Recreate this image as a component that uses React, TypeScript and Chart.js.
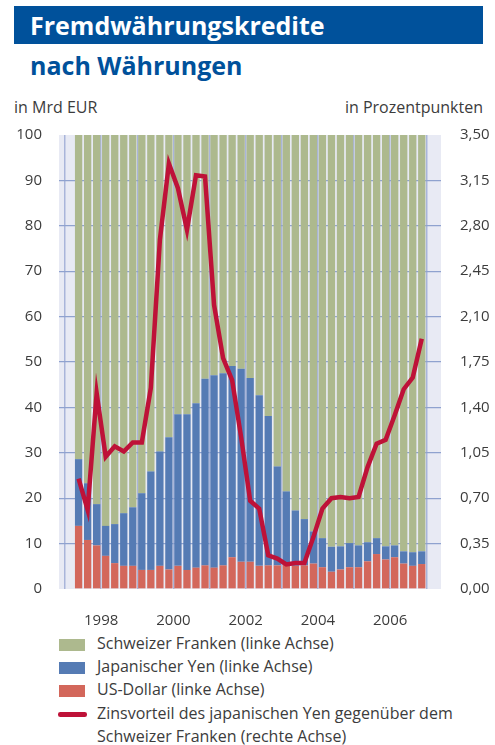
import React, { useEffect, useRef } from 'react';
import { Chart, registerables } from 'chart.js';

Chart.register(...registerables);

// ---- data ----
const quarters = [
  '1997 Q4',
  '1998 Q1', '1998 Q2', '1998 Q3', '1998 Q4',
  '1999 Q1', '1999 Q2', '1999 Q3', '1999 Q4',
  '2000 Q1', '2000 Q2', '2000 Q3', '2000 Q4',
  '2001 Q1', '2001 Q2', '2001 Q3', '2001 Q4',
  '2002 Q1', '2002 Q2', '2002 Q3', '2002 Q4',
  '2003 Q1', '2003 Q2', '2003 Q3', '2003 Q4',
  '2004 Q1', '2004 Q2', '2004 Q3', '2004 Q4',
  '2005 Q1', '2005 Q2', '2005 Q3', '2005 Q4',
  '2006 Q1', '2006 Q2', '2006 Q3', '2006 Q4',
  '2007 Q1', '2007 Q2',
];

const usDollar = [
  13.9, 10.8, 9.6, 7.3, 5.7, 5.1, 5.1, 4.2, 4.2, 5.1, 4.3, 5.1, 4.2, 4.7, 5.2, 4.7, 5.2, 7.0, 6.0, 6.0,
  5.1, 5.2, 5.2, 5.3, 5.1, 5.2, 5.6, 4.8, 3.8, 4.3, 4.8, 4.8, 6.1, 7.7, 6.5, 7.0, 5.6, 5.1, 5.5,
];

const japanYen = [
  14.7, 12.5, 9.1, 6.6, 8.6, 11.6, 12.9, 16.9, 21.7, 25.2, 29.1, 33.4, 34.3, 36.2, 41.1, 42.4, 42.3, 42.1, 42.5, 40.5,
  37.6, 32.9, 21.8, 16.2, 12.2, 10.2, 7.1, 6.4, 5.5, 5.1, 5.3, 4.8, 4.2, 3.5, 2.9, 2.6, 2.7, 3.0, 2.8,
];

const swissFranc = [
  71.4, 76.7, 81.3, 86.1, 85.7, 83.3, 82.0, 78.9, 74.1, 69.7, 66.6, 61.5, 61.5, 59.1, 53.7, 52.9, 52.5, 50.9, 51.5, 53.5,
  57.3, 61.9, 73.0, 78.5, 82.7, 84.6, 87.3, 88.8, 90.7, 90.6, 89.9, 90.4, 89.7, 88.8, 90.6, 90.4, 91.7, 91.9, 91.7,
];

const rateAdvantage = [
  0.85, 0.61, 1.51, 1.02, 1.10, 1.06, 1.13, 1.13, 1.55, 2.69, 3.28, 3.09, 2.77, 3.19, 3.18, 2.19, 1.78, 1.61, 1.17, 0.68,
  0.62, 0.26, 0.235, 0.19, 0.20, 0.20, 0.40, 0.62, 0.70, 0.71, 0.70, 0.71, 0.94, 1.12, 1.15, 1.34, 1.54, 1.63, 1.93,
];

const leftTicks = [0, 10, 20, 30, 40, 50, 60, 70, 80, 90, 100];
const rightTicks = [0, 0.35, 0.7, 1.05, 1.4, 1.75, 2.1, 2.45, 2.8, 3.15, 3.5];
const yearLabels = ['1998', '2000', '2002', '2004', '2006'];

const legendItems = [
  { label: 'Schweizer Franken (linke Achse)', color: '#adb98e', kind: 'box' },
  { label: 'Japanischer Yen (linke Achse)', color: '#557bb4', kind: 'box' },
  { label: 'US-Dollar (linke Achse)', color: '#d3675b', kind: 'box' },
  { label: 'Zinsvorteil des japanischen Yen gegenüber dem', label2: 'Schweizer Franken (rechte Achse)', color: '#be1238', kind: 'line' },
];

const COLORS = {
  chf: '#adb98e',
  yen: '#557bb4',
  usd: '#d3675b',
  line: '#be1238',
  bg: '#e8eaf4',
  grid: '#8fa2cf',
  yearGrid: '#a9b5da',
  text: '#3c3c3c',
  blue: '#00519b',
};

const FONT = "'Open Sans', 'DejaVu Sans', sans-serif";

const yearMid = (y: string) => quarters.indexOf(`${y} Q1`) + 1.5;
const yearBoundaries = quarters
  .map((q, i) => (q.endsWith('Q1') ? i - 0.5 : null))
  .filter((v) => v !== null) as number[];

const toPoints = (arr: number[]) => arr.map((v, i) => ({ x: i, y: v }));

const bgPlugin = {
  id: 'plotBg',
  beforeDraw(chart: any) {
    const { ctx, chartArea } = chart;
    if (!chartArea) return;
    ctx.save();
    ctx.fillStyle = COLORS.bg;
    ctx.fillRect(chartArea.left, chartArea.top, chartArea.right - chartArea.left, chartArea.bottom - chartArea.top);
    ctx.restore();
  },
};

const X_MIN = -2.17;
const X_MAX = 40.13;

function ChartCanvas() {
  const ref = useRef<HTMLCanvasElement | null>(null);
  useEffect(() => {
    if (!ref.current) return;
    Chart.defaults.font.family = FONT;
    const chart = new Chart(ref.current, {
      type: 'bar',
      data: {
        datasets: [
          {
            type: 'line',
            label: 'Zinsvorteil',
            data: toPoints(rateAdvantage),
            yAxisID: 'y2',
            xAxisID: 'x',
            borderColor: COLORS.line,
            borderWidth: 4.5,
            pointRadius: 0,
            tension: 0,
            order: 0,
          } as any,
          {
            label: 'US-Dollar',
            data: toPoints(usDollar),
            backgroundColor: COLORS.usd,
            yAxisID: 'y',
            xAxisID: 'x',
            barPercentage: 0.81,
            categoryPercentage: 1,
            order: 1,
          },
          {
            label: 'Japanischer Yen',
            data: toPoints(japanYen),
            backgroundColor: COLORS.yen,
            yAxisID: 'y',
            xAxisID: 'x',
            barPercentage: 0.81,
            categoryPercentage: 1,
            order: 1,
          },
          {
            label: 'Schweizer Franken',
            data: toPoints(swissFranc),
            backgroundColor: COLORS.chf,
            yAxisID: 'y',
            xAxisID: 'x',
            barPercentage: 0.81,
            categoryPercentage: 1,
            order: 1,
          },
        ],
      },
      options: {
        responsive: false,
        animation: false,
        devicePixelRatio: 1,
        layout: { padding: { top: 17, left: 0, right: 0, bottom: 0 } },
        plugins: { legend: { display: false }, tooltip: { enabled: false } },
        scales: {
          x: {
            type: 'linear',
            position: 'bottom',
            min: X_MIN,
            max: X_MAX,
            offset: false,
            stacked: true,
            grid: { display: false },
            border: { display: false },
            ticks: {
              autoSkip: false,
              maxRotation: 0,
              padding: 15,
              color: COLORS.text,
              font: { size: 15, family: FONT },
              callback: (_v: any, i: number) => yearLabels[i],
            },
            afterBuildTicks: (axis: any) => {
              axis.ticks = yearLabels.map((y) => ({ value: yearMid(y) }));
            },
            afterFit: (axis: any) => {
              axis.height = 39;
              axis.paddingLeft = 0;
              axis.paddingRight = 0;
            },
          },
          xg: {
            type: 'linear',
            position: 'bottom',
            min: X_MIN,
            max: X_MAX,
            offset: false,
            grid: { color: COLORS.yearGrid, lineWidth: 1.5, drawTicks: false },
            border: { display: false },
            ticks: { display: false },
            afterBuildTicks: (axis: any) => {
              axis.ticks = yearBoundaries.map((v) => ({ value: v }));
            },
            afterFit: (axis: any) => {
              axis.height = 0;
              axis.paddingLeft = 0;
              axis.paddingRight = 0;
            },
          },
          y: {
            type: 'linear',
            position: 'left',
            min: 0,
            max: 100,
            stacked: true,
            grid: {
              drawTicks: false,
              lineWidth: 1.3,
              color: (ctx: any) =>
                ctx.tick && (ctx.tick.value === 0 || ctx.tick.value === 100) ? 'rgba(0,0,0,0)' : COLORS.grid,
            },
            border: { display: false },
            ticks: {
              padding: 17,
              color: COLORS.text,
              font: { size: 15, family: FONT },
            },
            afterBuildTicks: (axis: any) => {
              axis.ticks = leftTicks.map((v) => ({ value: v }));
            },
            afterFit: (axis: any) => {
              axis.width = 59;
              axis.paddingTop = 0;
              axis.paddingBottom = 0;
            },
          },
          y2: {
            type: 'linear',
            position: 'right',
            min: 0,
            max: 3.5,
            grid: { display: false },
            border: { display: false },
            ticks: {
              padding: 11,
              color: COLORS.text,
              font: { size: 15, family: FONT },
              callback: (v: any) => Number(v).toFixed(2).replace('.', ','),
            },
            afterBuildTicks: (axis: any) => {
              axis.ticks = rightTicks.map((v) => ({ value: v }));
            },
            afterFit: (axis: any) => {
              axis.width = 54;
              axis.paddingTop = 0;
              axis.paddingBottom = 0;
            },
          },
        },
      } as any,
      plugins: [bgPlugin],
    });
    return () => chart.destroy();
  }, []);
  return (
    <canvas
      ref={ref}
      width={495}
      height={510}
      style={{ position: 'absolute', left: 0, top: 118, width: 495, height: 510 }}
    />
  );
}

export default function App() {
  const textStyle: React.CSSProperties = {
    fontFamily: FONT,
    fontSize: 16,
    color: COLORS.text,
    position: 'absolute',
    whiteSpace: 'nowrap',
    lineHeight: '16px',
  };
  const rowH = 23.1;
  const legendTop = 632.25;
  return (
    <div style={{ position: 'fixed', left: 0, top: 0, width: 495, height: 745, background: '#fff', overflow: 'hidden' }}>
      <div
        style={{
          position: 'absolute',
          left: 14,
          top: 6,
          width: 469,
          height: 38,
          background: COLORS.blue,
          color: '#fff',
          fontFamily: FONT,
          fontWeight: 700,
          fontSize: 25,
          lineHeight: '38px',
          paddingLeft: 16,
          boxSizing: 'border-box',
          whiteSpace: 'nowrap',
        }}
      >
        Fremdwährungskredite
      </div>
      <div
        style={{
          position: 'absolute',
          left: 30,
          top: 52.8,
          color: COLORS.blue,
          fontFamily: FONT,
          fontWeight: 700,
          fontSize: 25,
          lineHeight: '25px',
          whiteSpace: 'nowrap',
        }}
      >
        nach Währungen
      </div>
      <div style={{ ...textStyle, left: 14, top: 99 }}>in Mrd EUR</div>
      <div style={{ ...textStyle, right: 12, top: 99, textAlign: 'right' }}>in Prozentpunkten</div>
      <ChartCanvas />
      {legendItems.map((it, i) => (
        <div
          key={it.label}
          style={{ position: 'absolute', left: 0, top: legendTop + i * rowH, width: 495, height: rowH }}
        >
          {it.kind === 'box' ? (
            <div style={{ position: 'absolute', left: 59, top: 6.75, width: 26, height: 12, background: it.color }} />
          ) : (
            <div
              style={{
                position: 'absolute',
                left: 58,
                top: 10.5,
                width: 29,
                height: 4.5,
                borderRadius: 2.25,
                background: it.color,
              }}
            />
          )}
          <div
            style={{
              position: 'absolute',
              left: 97,
              top: 0,
              fontFamily: FONT,
              fontSize: 16,
              color: COLORS.text,
              lineHeight: `${rowH}px`,
              whiteSpace: 'nowrap',
            }}
          >
            {it.label}
            {it.label2 ? (
              <>
                <br />
                {it.label2}
              </>
            ) : null}
          </div>
        </div>
      ))}
    </div>
  );
}
